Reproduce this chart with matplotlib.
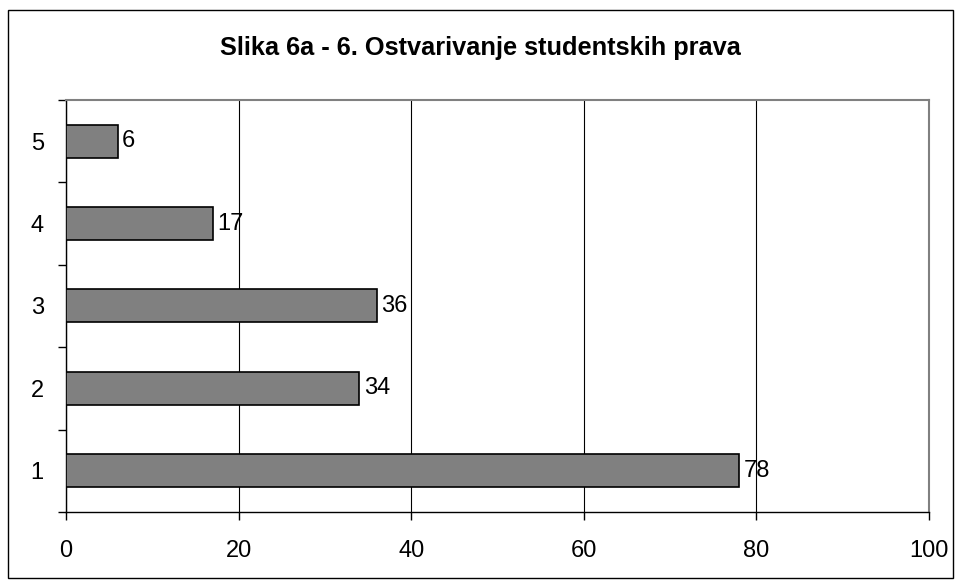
import matplotlib
matplotlib.use("Agg")
import matplotlib.pyplot as plt
from matplotlib.patches import Rectangle

plt.rcParams['font.family'] = ['Liberation Sans', 'DejaVu Sans']

categories = ["1", "2", "3", "4", "5"]
values = [78, 34, 36, 17, 6]
x_ticks = [0, 20, 40, 60, 80, 100]

fig = plt.figure(figsize=(9.61, 5.86), dpi=100)
ax = fig.add_axes([0.0687, 0.1263, 0.8980, 0.7031])

pos = list(range(len(categories)))
ax.barh(pos, values, height=0.4, color="#808080", edgecolor="black", linewidth=1.2, zorder=3)
for p, v in zip(pos, values):
    ax.text(v + 0.5, p, str(v), va="center", ha="left", fontsize=17, zorder=4)

ax.set_xlim(0, 100)
ax.set_ylim(-0.5, len(categories) - 0.5)
ax.set_xticks(x_ticks)
ax.set_xticklabels([str(t) for t in x_ticks], fontsize=17)
ax.set_yticks(pos)
ax.set_yticklabels(categories, fontsize=17)
ax.set_yticks([p - 0.5 for p in pos] + [len(categories) - 0.5], minor=True)
ax.tick_params(axis="y", which="major", length=0, pad=16)
ax.tick_params(axis="y", which="minor", length=6, direction="out", width=1)
ax.tick_params(axis="x", length=6, direction="out", width=1, pad=14)

ax.grid(axis="x", color="black", linewidth=0.8, zorder=0)
ax.spines["top"].set_color("#808080")
ax.spines["right"].set_color("#808080")
ax.spines["top"].set_linewidth(1.5)
ax.spines["right"].set_linewidth(1.5)
ax.spines["left"].set_linewidth(1)
ax.spines["bottom"].set_linewidth(1)

fig.text(0.5, 1 - 48 / 586, "Slika 6a - 6. Ostvarivanje studentskih prava",
         ha="center", va="center", fontsize=18.3, fontweight="bold")

fig.patches.append(Rectangle((8 / 961, 1 - 578 / 586), 945 / 961, 568 / 586,
                             transform=fig.transFigure, fill=False,
                             edgecolor="black", linewidth=1))

fig.savefig("out.png", dpi=100)
